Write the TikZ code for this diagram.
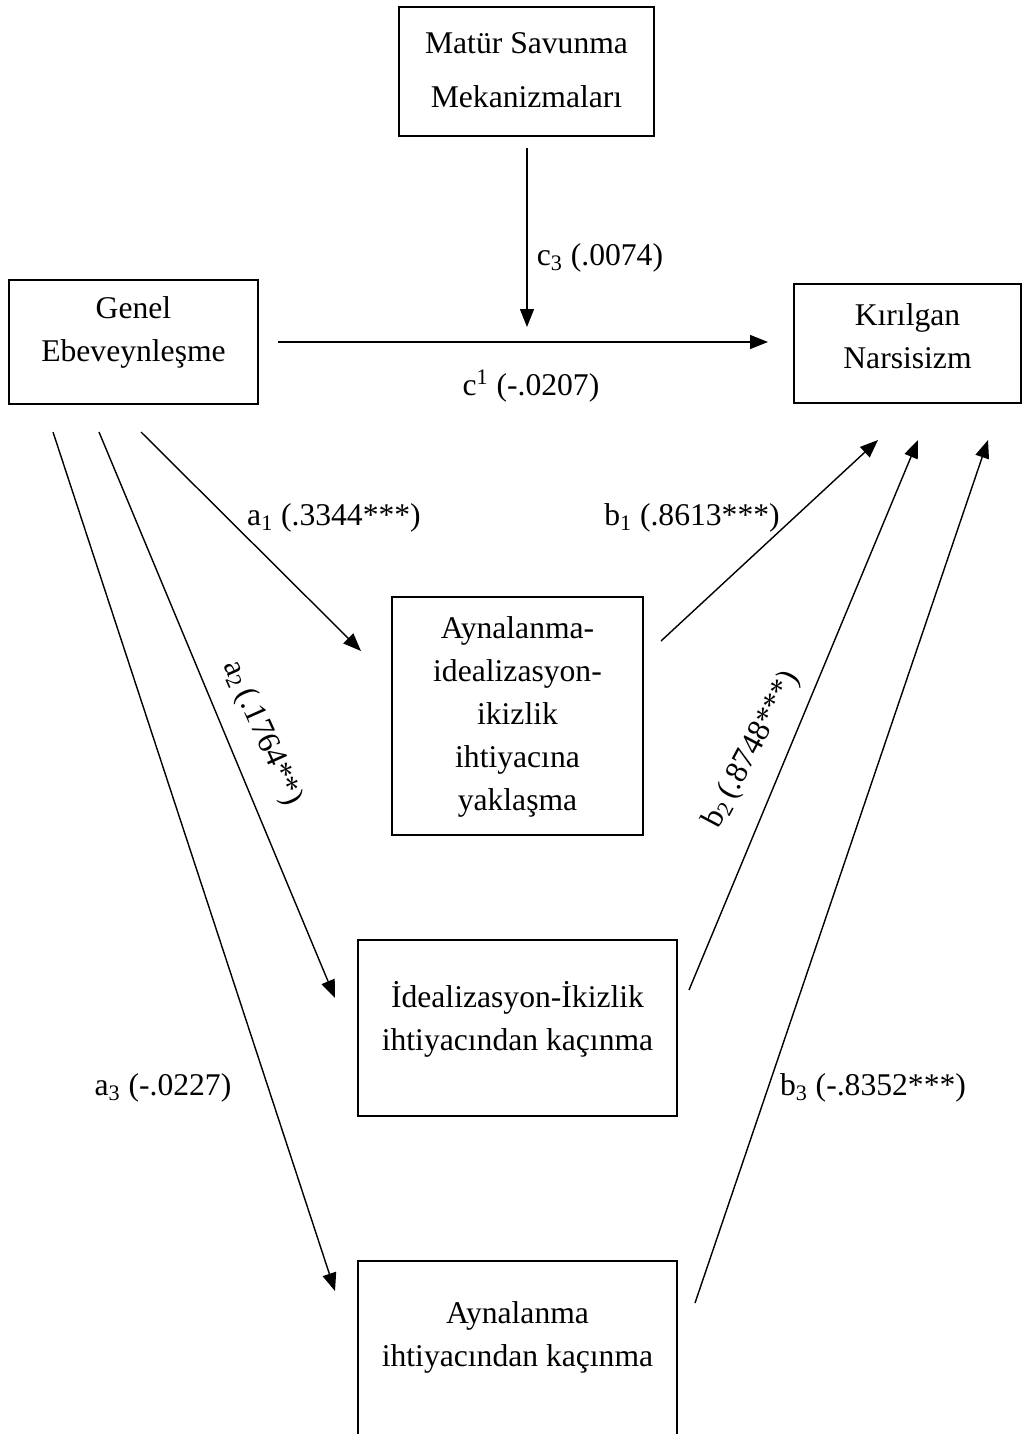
\documentclass[tikz,border=0pt]{standalone}
\usepackage{fontspec}
\setmainfont{Liberation Serif}
\usetikzlibrary{arrows.meta}

\tikzset{
  box/.style={draw,line width=1.1pt,inner sep=0pt},
  txt/.style={align=center,inner sep=0pt,font=\fontsize{18}{24.5}\selectfont},
  coef/.style={inner sep=0pt,font=\fontsize{18}{21.6}\selectfont},
  path/.style={line width=0.8pt,-{Triangle[length=0.36cm,width=0.28cm]}}
}

\begin{document}
\begin{tikzpicture}[x=0.02cm,y=-0.02cm]
  \useasboundingbox (0,0) rectangle (1024,1434);
  \clip (0,0) rectangle (1024,1434);

  % boxes
  \node[box,minimum width=5.10cm,minimum height=2.58cm] (matur) at (526.5,71.5) {};
  \node[box,minimum width=4.98cm,minimum height=2.48cm] (genel) at (133.5,342) {};
  \node[box,minimum width=4.54cm,minimum height=2.38cm] (kirilgan) at (907.5,343.5) {};
  \node[box,minimum width=5.02cm,minimum height=4.76cm] (ayna1) at (517.5,716) {};
  \node[box,minimum width=6.38cm,minimum height=3.52cm] (ideal) at (517.5,1028) {};
  \node[box,minimum width=6.38cm,minimum height=3.52cm] (ayna2) at (517.5,1349) {};

  % box texts
  \node[txt] (matur-t) at (526.5,70) {Matür Savunma\\[6pt]Mekanizmaları};
  \node[txt] (genel-t) at (133.5,332.5) {Genel\\Ebeveynleşme};
  \node[txt] (kirilgan-t) at (907.5,336.5) {Kırılgan\\Narsisizm};
  \node[txt] (ayna1-t) at (517.5,717) {Aynalanma-\\idealizasyon-\\ikizlik\\ihtiyacına\\yaklaşma};
  \node[txt] (ideal-t) at (517.5,1019) {İdealizasyon-İkizlik\\ihtiyacından kaçınma};
  \node[txt] (ayna2-t) at (517.5,1337) {Aynalanma\\ihtiyacından kaçınma};

  % connector ends
  \coordinate (matur-out) at (527,148);
  \coordinate (c-mid) at (527,327);
  \coordinate (genel-c) at (278,342);
  \coordinate (kirilgan-c) at (768,342);
  \coordinate (genel-a1) at (141,432);
  \coordinate (genel-a2) at (99,432);
  \coordinate (genel-a3) at (53,432);
  \coordinate (ayna1-in) at (361,651);
  \coordinate (ideal-in) at (335,998);
  \coordinate (ayna2-in) at (335,1291);
  \coordinate (ayna1-out) at (661,641);
  \coordinate (ideal-out) at (689,990);
  \coordinate (ayna2-out) at (695,1303);
  \coordinate (kirilgan-b1) at (878,440);
  \coordinate (kirilgan-b2) at (918,440);
  \coordinate (kirilgan-b3) at (988,440);

  % paths
  \draw[path] (matur-out) -- (c-mid);
  \draw[path] (genel-c) -- (kirilgan-c);
  \draw[path] (genel-a1) -- (ayna1-in);
  \draw[path] (genel-a2) -- (ideal-in);
  \draw[path] (genel-a3) -- (ayna2-in);
  \draw[path] (ayna1-out) -- (kirilgan-b1);
  \draw[path] (ideal-out) -- (kirilgan-b2);
  \draw[path] (ayna2-out) -- (kirilgan-b3);

  % coefficients
  \node[coef] (c3) at (600,258) {c\textsubscript{3} (.0074)};
  \node[coef] (c1) at (531,386) {c\textsuperscript{1} (-.0207)};
  \node[coef] (a1) at (334,518) {a\textsubscript{1} (.3344***)};
  \node[coef] (b1) at (692,518) {b\textsubscript{1} (.8613***)};
  \node[coef,rotate=-66] (a2) at (262,733) {a\textsubscript{2}\,(.1764**)};
  \node[coef,rotate=62] (b2) at (752,750) {b\textsubscript{2}\,(.8748***)};
  \node[coef] (a3) at (163,1088) {a\textsubscript{3} (-.0227)};
  \node[coef] (b3) at (873,1088) {b\textsubscript{3} (-.8352***)};
\end{tikzpicture}
\end{document}
